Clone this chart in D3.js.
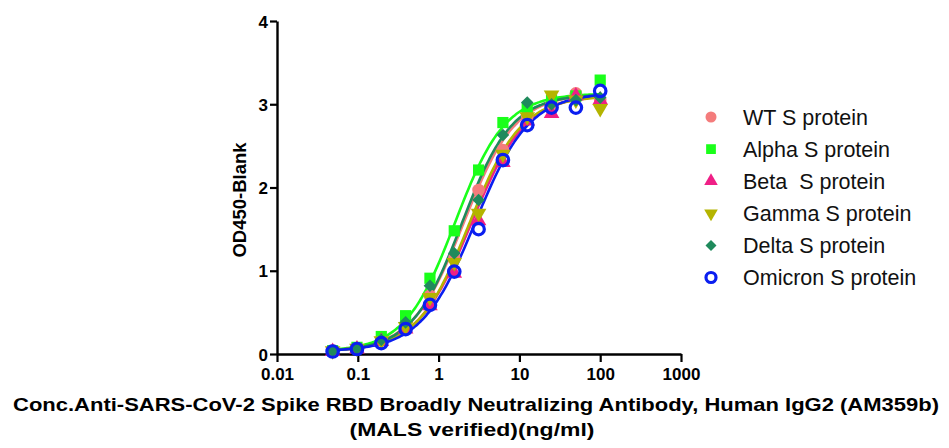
<!DOCTYPE html>
<html>
<head>
<meta charset="utf-8">
<script src="https://cdn.jsdelivr.net/npm/d3@7"></script>
<style>
  body { margin: 0; background: #fff; }
  svg { display: block; font-family: "Liberation Sans", Arial, sans-serif; }
</style>
</head>
<body>
<div id="chart"></div>
<script>
// concentrations (ng/ml), 2-fold dilution from 100
const conc = [100, 50, 25, 12.5, 6.25, 3.125, 1.5625, 0.78125, 0.390625, 0.1953125, 0.09765625, 0.048828125];

const seriesNames = ["WT S protein", "Alpha S protein", "Beta  S protein", "Gamma S protein", "Delta S protein", "Omicron S protein"];
const seriesColors = ["#f47c7c", "#1aff1a", "#ef1f86", "#b4b400", "#1f8a5c", "#0a1ef0"];
const seriesShapes = ["circle", "square", "triangle", "triangleDown", "diamond", "ring"];

// OD values, same order as conc
const wtVals      = [3.05, 3.13, 3.00, 2.85, 2.45, 1.97, 1.15, 0.70, 0.34, 0.17, 0.07, 0.04];
const alphaVals   = [3.29, 3.10, 3.05, 2.95, 2.78, 2.21, 1.48, 0.91, 0.46, 0.21, 0.08, 0.04];
const betaVals    = [3.05, 3.10, 2.89, 2.80, 2.30, 1.60, 0.97, 0.58, 0.30, 0.15, 0.06, 0.03];
const gammaVals   = [2.95, 3.05, 3.11, 2.85, 2.40, 1.69, 1.10, 0.68, 0.33, 0.16, 0.07, 0.04];
const deltaVals   = [3.08, 3.05, 3.00, 3.02, 2.63, 1.85, 1.21, 0.82, 0.38, 0.17, 0.07, 0.04];
const omicronVals = [3.16, 2.96, 2.96, 2.75, 2.33, 1.50, 0.99, 0.59, 0.30, 0.13, 0.06, 0.03];
const allVals = [wtVals, alphaVals, betaVals, gammaVals, deltaVals, omicronVals];

// 4PL fit parameters per series: bottom, top, EC50, hill
const fitBottom = [0.03, 0.03, 0.03, 0.03, 0.03, 0.03];
const fitTop    = [3.13, 3.13, 3.12, 3.10, 3.12, 3.14];
const fitEC50   = [2.05, 1.60, 2.55, 2.40, 1.95, 2.85];
const fitHill   = [1.35, 1.40, 1.30, 1.35, 1.40, 1.30];

const xTicks = [0.01, 0.1, 1, 10, 100, 1000];
const yTicks = [0, 1, 2, 3, 4];

const width = 949, height = 448;
const svg = d3.select("#chart").append("svg").attr("width", width).attr("height", height);

const x = d3.scaleLog().domain([0.01, 1000]).range([277, 681]);
const y = d3.scaleLinear().domain([0, 4]).range([354, 21]);

// axes
const xAxis = svg.append("g").attr("transform", "translate(0,354)")
  .call(d3.axisBottom(x).tickValues(xTicks).tickFormat(d => String(d)).tickSize(8).tickSizeOuter(0));
const yAxis = svg.append("g").attr("transform", "translate(277,0)")
  .call(d3.axisLeft(y).tickValues(yTicks).tickFormat(d3.format("d")).tickSize(7).tickSizeOuter(0));

[xAxis, yAxis].forEach(a => {
  a.select(".domain").attr("stroke", "#000").attr("stroke-width", 2.4);
  a.selectAll(".tick line").attr("stroke", "#000").attr("stroke-width", 2.2);
  a.selectAll(".tick text").attr("fill", "#000").style("font-size", "17px").style("font-weight", "bold")
    .style("font-family", "'Liberation Sans Narrow', 'Liberation Sans', Arial, sans-serif");
});
xAxis.selectAll(".tick text").attr("y", 14);
yAxis.selectAll(".tick text").attr("x", -9).attr("dy", "0.36em");

// fitted curves
const fitX = d3.range(0, 121).map(i => Math.pow(10, Math.log10(0.048828125) + i * (Math.log10(100) - Math.log10(0.048828125)) / 120));
const line = d3.line().x(d => x(d[0])).y(d => y(d[1])).curve(d3.curveMonotoneX);

seriesNames.forEach((name, i) => {
  const pts = fitX.map(c => [c, fitBottom[i] + (fitTop[i] - fitBottom[i]) / (1 + Math.pow(fitEC50[i] / c, fitHill[i]))]);
  svg.append("path").attr("d", line(pts)).attr("fill", "none")
    .attr("stroke", seriesColors[i]).attr("stroke-width", 2.6);
});

// markers
function drawMarker(g, shape, color, cx, cy, s) {
  if (shape === "circle") {
    g.append("circle").attr("cx", cx).attr("cy", cy).attr("r", s * 0.55).attr("fill", color);
  } else if (shape === "ring") {
    g.append("circle").attr("cx", cx).attr("cy", cy).attr("r", s * 0.5).attr("fill", "none")
      .attr("stroke", color).attr("stroke-width", 3.2);
  } else {
    const sym = {square: d3.symbolSquare, triangle: d3.symbolTriangle, triangleDown: d3.symbolTriangle, diamond: d3.symbolSquare}[shape];
    const sz = {square: s * s * 0.95, triangle: s * s * 0.8, triangleDown: s * s * 0.8, diamond: s * s * 0.6}[shape];
    const rot = shape === "triangleDown" ? 180 : (shape === "diamond" ? 45 : 0);
    g.append("path").attr("d", d3.symbol().type(sym).size(sz)())
      .attr("transform", `translate(${cx},${cy}) rotate(${rot})`).attr("fill", color);
  }
}

const markG = svg.append("g");
allVals.forEach((vals, i) => {
  vals.forEach((v, j) => drawMarker(markG, seriesShapes[i], seriesColors[i], x(conc[j]), y(v), 11.5));
});

// legend
const legend = svg.append("g");
seriesNames.forEach((name, i) => {
  const ly = 117 + i * 32.1;
  drawMarker(legend, seriesShapes[i], seriesColors[i], 711, ly, 10);
  legend.append("text").attr("x", 743).attr("y", ly).attr("dy", "0.36em")
    .style("font-size", "21.5px").style("white-space", "pre").attr("fill", "#111").text(name);
});

// axis titles
svg.append("text").attr("transform", "translate(246,200) rotate(-90)").attr("text-anchor", "middle")
  .style("font-size", "18.5px").style("font-weight", "bold").text("OD450-Blank");

svg.append("text").attr("x", 476).attr("y", 411).attr("text-anchor", "middle")
  .style("font-size", "18.5px").style("font-weight", "bold")
  .attr("textLength", 926).attr("lengthAdjust", "spacingAndGlyphs")
  .text("Conc.Anti-SARS-CoV-2 Spike RBD Broadly Neutralizing Antibody, Human IgG2 (AM359b)");
svg.append("text").attr("x", 472).attr("y", 436).attr("text-anchor", "middle")
  .style("font-size", "18.5px").style("font-weight", "bold")
  .attr("textLength", 245).attr("lengthAdjust", "spacingAndGlyphs")
  .text("(MALS verified)(ng/ml)");
</script>
</body>
</html>
